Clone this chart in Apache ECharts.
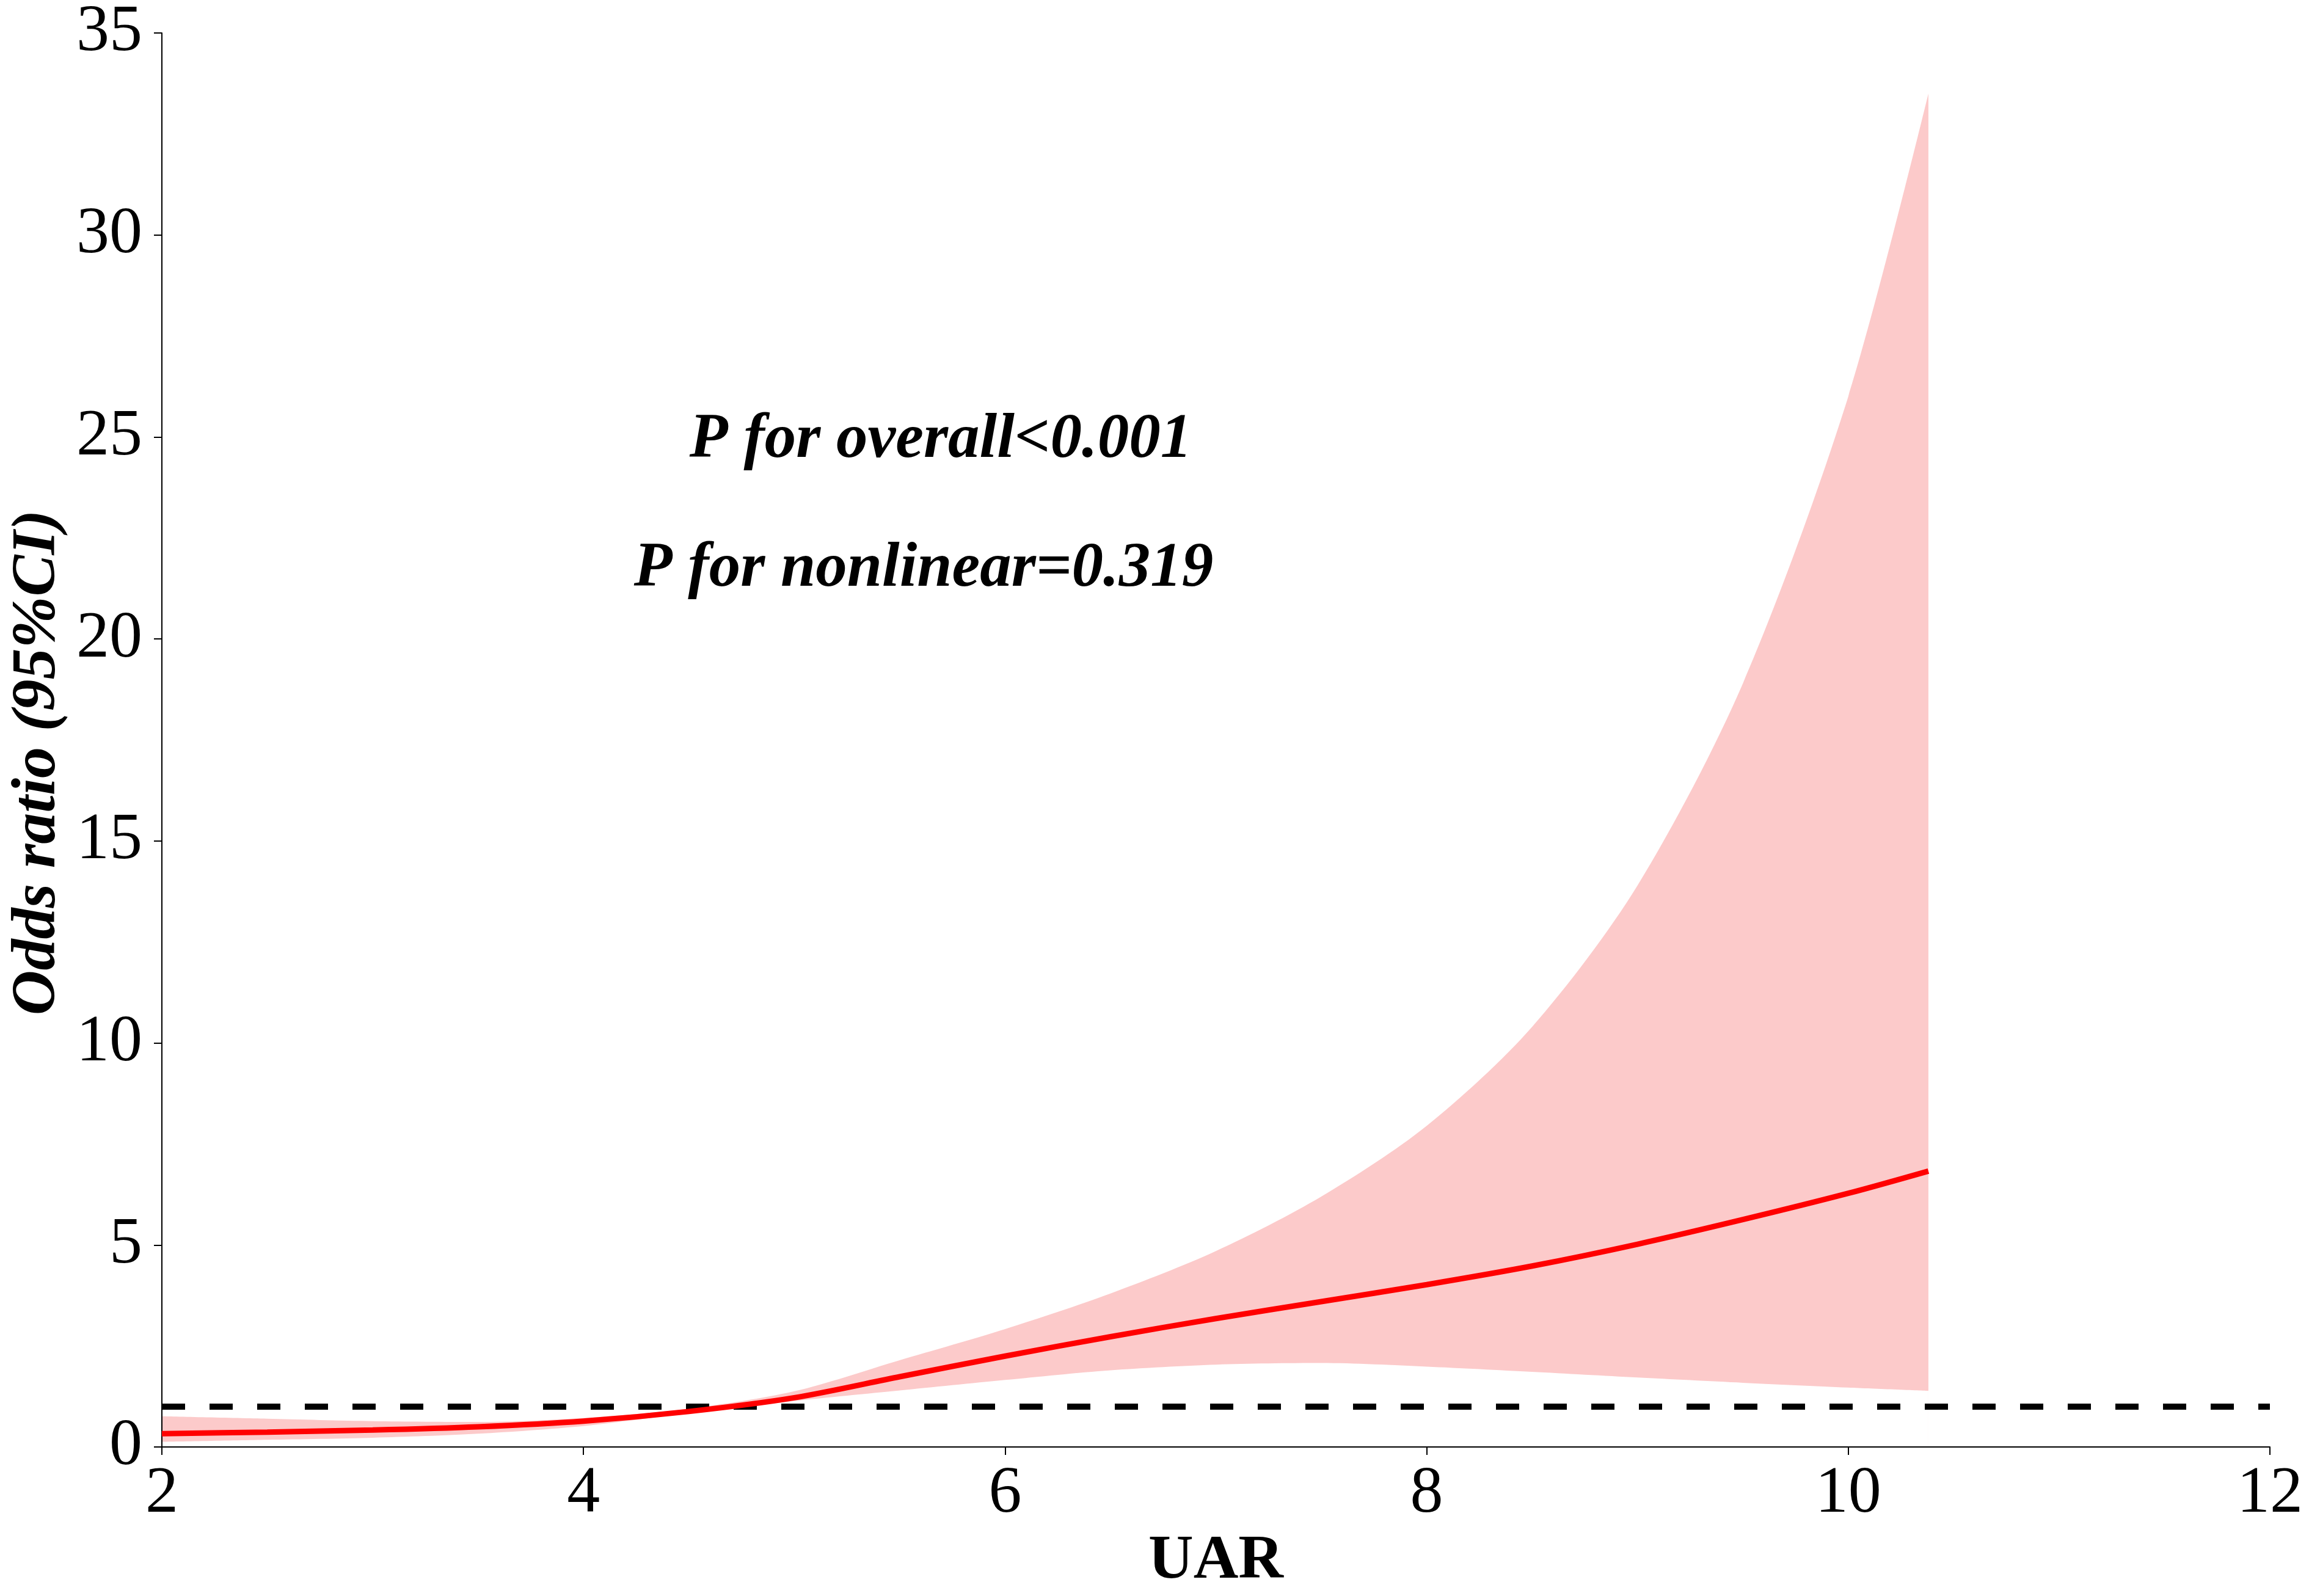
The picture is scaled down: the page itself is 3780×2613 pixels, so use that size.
<!DOCTYPE html>
<html>
<head>
<meta charset="utf-8">
<script src="https://cdn.jsdelivr.net/npm/echarts@6/dist/echarts.min.js"></script>
<style>
  html, body { margin: 0; padding: 0; background: #fff; }
  #chart { width: 3780px; height: 2613px; }
</style>
</head>
<body>
<div id="chart"></div>
<script>
// UAR values and odds ratio with 95% CI
const uar = [2.0, 2.5, 3.0, 3.5, 4.0, 4.5, 5.0, 5.5, 6.0, 6.5, 7.0, 7.5, 8.0, 8.5, 9.0, 9.5, 10.0, 10.38]
const oddsRatio = [0.33, 0.37, 0.42, 0.50, 0.64, 0.88, 1.22, 1.74, 2.25, 2.73, 3.18, 3.60, 4.02, 4.48, 5.02, 5.63, 6.28, 6.83]
const ciUpper = [0.76, 0.70, 0.64, 0.62, 0.72, 0.95, 1.38, 2.15, 2.92, 3.80, 4.85, 6.20, 7.95, 10.4, 13.9, 18.9, 26.0, 33.5]
const ciLower = [0.13, 0.18, 0.23, 0.33, 0.52, 0.84, 1.14, 1.40, 1.66, 1.90, 2.04, 2.08, 1.99, 1.86, 1.72, 1.59, 1.47, 1.39]
const refLine = [[2, 1], [12, 1]]
const xTicks = { min: 2, max: 12, interval: 2 }
const yTicks = { min: 0, max: 35, interval: 5 }

const serif = "'Liberation Serif', 'Times New Roman', serif"

const chart = echarts.init(document.getElementById('chart'))
chart.setOption({
  backgroundColor: '#fff',
  animation: false,
  grid: { left: 265, right: 64, top: 44, bottom: 205, containLabel: false },
  xAxis: {
    type: 'value',
    min: xTicks.min, max: xTicks.max, interval: xTicks.interval,
    name: 'UAR',
    nameLocation: 'middle',
    nameGap: 128,
    nameTextStyle: { fontFamily: serif, fontWeight: 'bold', fontSize: 102, color: '#000' },
    axisLine: { lineStyle: { color: '#000', width: 2 } },
    axisTick: { length: 13, lineStyle: { color: '#000', width: 2 } },
    axisLabel: { fontFamily: serif, fontSize: 108, color: '#000', margin: 24 },
    splitLine: { show: false }
  },
  yAxis: {
    type: 'value',
    min: yTicks.min, max: yTicks.max, interval: yTicks.interval,
    name: 'Odds ratio (95%CI)',
    nameLocation: 'middle',
    nameGap: 150,
    nameTextStyle: { fontFamily: serif, fontWeight: 'bold', fontStyle: 'italic', fontSize: 102, color: '#000', padding: [0, 74, 0, 0] },
    axisLine: { show: true, lineStyle: { color: '#000', width: 2 } },
    axisTick: { show: true, length: 13, lineStyle: { color: '#000', width: 2 } },
    axisLabel: { fontFamily: serif, fontSize: 108, color: '#000', margin: 32 },
    splitLine: { show: false }
  },
  graphic: [
    {
      type: 'text', x: 1540, y: 721,
      style: { text: 'P for overall<0.001', font: "italic bold 103px 'Liberation Serif', serif", fill: '#000', textAlign: 'center', textVerticalAlign: 'middle' }
    },
    {
      type: 'text', x: 1512, y: 932,
      style: { text: 'P for nonlinear=0.319', font: "italic bold 103px 'Liberation Serif', serif", fill: '#000', textAlign: 'center', textVerticalAlign: 'middle' }
    }
  ],
  series: [
    {
      // upper CI, filled pink down to the axis
      name: 'upper',
      type: 'line',
      smooth: 0.3,
      symbol: 'none',
      z: -2,
      lineStyle: { width: 0, opacity: 0 },
      areaStyle: { color: '#FCCACA', opacity: 1 },
      data: uar.map((x, i) => [x, ciUpper[i]])
    },
    {
      // lower CI, white fill masks the part under the band
      name: 'lower',
      type: 'line',
      smooth: 0.3,
      symbol: 'none',
      z: -1,
      lineStyle: { width: 0, opacity: 0 },
      areaStyle: { color: '#FFFFFF', opacity: 1 },
      data: uar.map((x, i) => [x, ciLower[i]])
    },
    {
      name: 'ref',
      type: 'line',
      symbol: 'none',
      z: 3,
      lineStyle: { color: '#000', width: 10, type: [38, 40] },
      data: refLine
    },
    {
      name: 'OR',
      type: 'line',
      smooth: 0.3,
      symbol: 'none',
      z: 4,
      lineStyle: { color: '#FF0000', width: 9 },
      data: uar.map((x, i) => [x, oddsRatio[i]])
    }
  ]
})
</script>
</body>
</html>
